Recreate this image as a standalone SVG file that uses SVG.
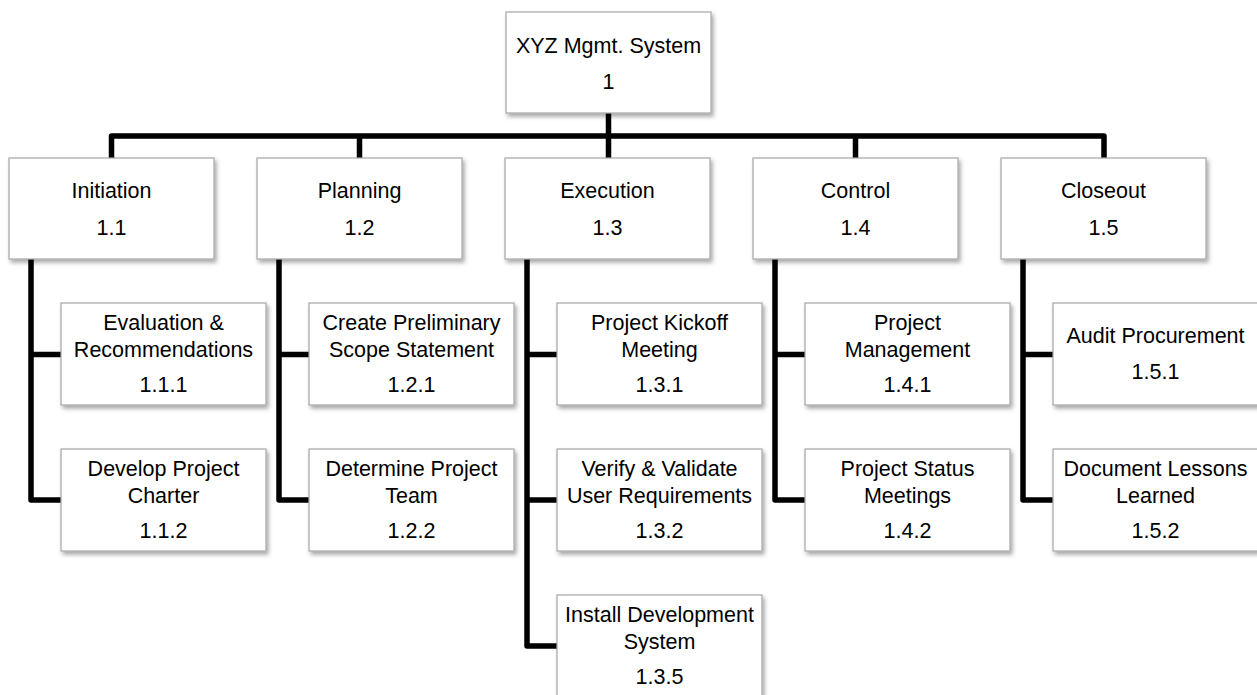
<svg xmlns="http://www.w3.org/2000/svg" width="1257" height="695" viewBox="0 0 1257 695">
<style>
.box{fill:#ffffff;stroke:#a6a6a6;stroke-width:1.2;filter:url(#sh)}
.t{font-family:"Liberation Sans",Arial,sans-serif;font-size:21.5px;fill:#000;text-anchor:middle}
.c{fill:none;stroke:#000;stroke-width:5.5;stroke-linejoin:round}
</style>
<defs>
<filter id="sh" x="-10%" y="-10%" width="125%" height="130%">
<feDropShadow dx="2" dy="3" stdDeviation="2" flood-color="#000" flood-opacity="0.35"/>
</filter>
</defs>
<rect width="1257" height="695" fill="#fff"/>
<g id="connectors">
<path class="c" d="M608.5 113 V158"/>
<path class="c" d="M111.5 158 V136 H1104 V158"/>
<path class="c" d="M359.5 136 V158"/>
<path class="c" d="M855.5 136 V158"/>
<path class="c" d="M61 354.5 H31 V259 M31 354.5 V500 H61"/>
<path class="c" d="M309 354.5 H279 V259 M279 354.5 V500 H309"/>
<path class="c" d="M557 354.5 H527 V259 M527 354.5 V646 H557 M527 500 H557"/>
<path class="c" d="M805 354.5 H775 V259 M775 354.5 V500 H805"/>
<path class="c" d="M1053 354.5 H1023 V259 M1023 354.5 V500 H1053"/>
</g>
<g id="n1"><rect class="box" x="506" y="12" width="205" height="101"/><text class="t" x="608.5" y="53">XYZ Mgmt. System</text><text class="t" x="608.5" y="89">1</text></g>
<g id="n1_1"><rect class="box" x="9" y="158" width="205" height="101"/><text class="t" x="111.5" y="198">Initiation</text><text class="t" x="111.5" y="235">1.1</text></g>
<g id="n1_2"><rect class="box" x="257" y="158" width="205" height="101"/><text class="t" x="359.5" y="198">Planning</text><text class="t" x="359.5" y="235">1.2</text></g>
<g id="n1_3"><rect class="box" x="505" y="158" width="205" height="101"/><text class="t" x="607.5" y="198">Execution</text><text class="t" x="607.5" y="235">1.3</text></g>
<g id="n1_4"><rect class="box" x="753" y="158" width="205" height="101"/><text class="t" x="855.5" y="198">Control</text><text class="t" x="855.5" y="235">1.4</text></g>
<g id="n1_5"><rect class="box" x="1001" y="158" width="205" height="101"/><text class="t" x="1103.5" y="198">Closeout</text><text class="t" x="1103.5" y="235">1.5</text></g>

<g id="n1_1_1"><rect class="box" x="61" y="303" width="205" height="102"/><text class="t" x="163.5" y="330">Evaluation &amp;</text><text class="t" x="163.5" y="357">Recommendations</text><text class="t" x="163.5" y="392">1.1.1</text></g>
<g id="n1_1_2"><rect class="box" x="61" y="449" width="205" height="102"/><text class="t" x="163.5" y="476">Develop Project</text><text class="t" x="163.5" y="503">Charter</text><text class="t" x="163.5" y="538">1.1.2</text></g>
<g id="n1_2_1"><rect class="box" x="309" y="303" width="205" height="102"/><text class="t" x="411.5" y="330">Create Preliminary</text><text class="t" x="411.5" y="357">Scope Statement</text><text class="t" x="411.5" y="392">1.2.1</text></g>
<g id="n1_2_2"><rect class="box" x="309" y="449" width="205" height="102"/><text class="t" x="411.5" y="476">Determine Project</text><text class="t" x="411.5" y="503">Team</text><text class="t" x="411.5" y="538">1.2.2</text></g>
<g id="n1_3_1"><rect class="box" x="557" y="303" width="205" height="102"/><text class="t" x="659.5" y="330">Project Kickoff</text><text class="t" x="659.5" y="357">Meeting</text><text class="t" x="659.5" y="392">1.3.1</text></g>
<g id="n1_3_2"><rect class="box" x="557" y="449" width="205" height="102"/><text class="t" x="659.5" y="476">Verify &amp; Validate</text><text class="t" x="659.5" y="503">User Requirements</text><text class="t" x="659.5" y="538">1.3.2</text></g>
<g id="n1_3_5"><rect class="box" x="557" y="595" width="205" height="102"/><text class="t" x="659.5" y="622">Install Development</text><text class="t" x="659.5" y="649">System</text><text class="t" x="659.5" y="684">1.3.5</text></g>
<g id="n1_4_1"><rect class="box" x="805" y="303" width="205" height="102"/><text class="t" x="907.5" y="330">Project</text><text class="t" x="907.5" y="357">Management</text><text class="t" x="907.5" y="392">1.4.1</text></g>
<g id="n1_4_2"><rect class="box" x="805" y="449" width="205" height="102"/><text class="t" x="907.5" y="476">Project Status</text><text class="t" x="907.5" y="503">Meetings</text><text class="t" x="907.5" y="538">1.4.2</text></g>
<g id="n1_5_1"><rect class="box" x="1053" y="303" width="205" height="102"/><text class="t" x="1155.5" y="343">Audit Procurement</text><text class="t" x="1155.5" y="379">1.5.1</text></g>
<g id="n1_5_2"><rect class="box" x="1053" y="449" width="205" height="102"/><text class="t" x="1155.5" y="476">Document Lessons</text><text class="t" x="1155.5" y="503">Learned</text><text class="t" x="1155.5" y="538">1.5.2</text></g>
</svg>
